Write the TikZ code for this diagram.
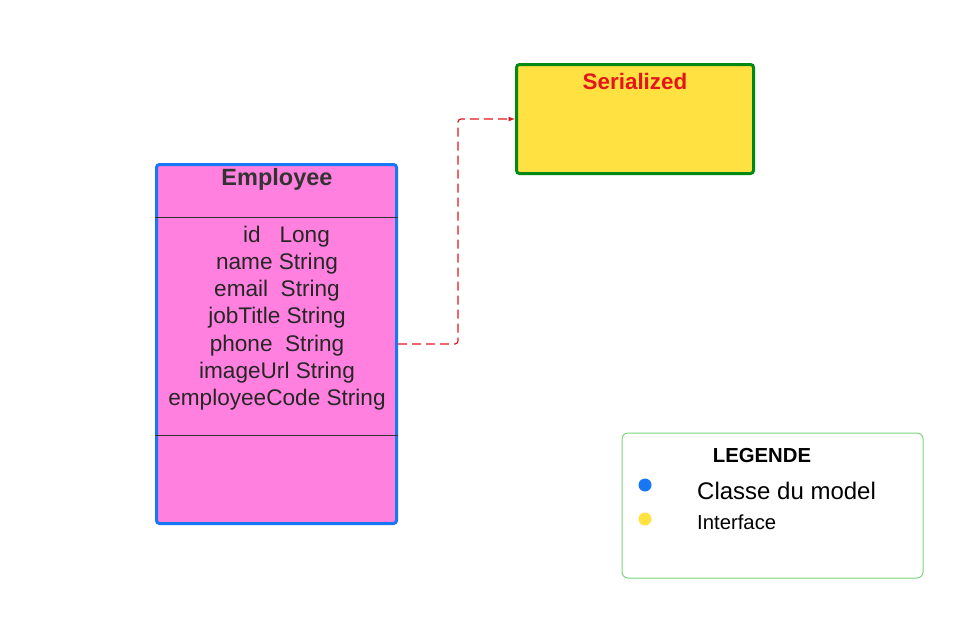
\documentclass[tikz,border=0pt]{standalone}
\usepackage{fontspec}
\setmainfont{Liberation Sans}
\usepackage{tikz}
\usetikzlibrary{arrows}

\definecolor{classBlue}{RGB}{24,119,242}
\definecolor{classPink}{RGB}{255,128,223}
\definecolor{ifaceYellow}{RGB}{255,225,66}
\definecolor{ifaceGreen}{RGB}{0,138,20}
\definecolor{ifaceRed}{RGB}{228,22,27}
\definecolor{legendGreen}{RGB}{125,212,125}

\begin{document}
\begin{tikzpicture}[x=1pt, y=-1pt]
    \useasboundingbox (0,0) rectangle (969,632);

    % Reference coordinates
    \coordinate (empC) at (276.5,344);
    \coordinate (serC) at (635,119);
    \coordinate (legC) at (772.5,505.5);

    % Classes
    \node[draw=classBlue, line width=3pt, fill=classPink, rounded corners=3pt, minimum width=240pt, minimum height=359pt, inner sep=0pt] (emp) at (empC) {};
    \node[text=black!80, font=\fontsize{23.5}{28}\selectfont\bfseries] (empTitle) at (277,179) {Employee};
    \node[text=black!85, align=center, font=\fontsize{22.6}{27.2}\selectfont] (empAttr) at (277,318) {\hspace*{19pt}id\ \ \ Long\\ name String\\ email\ \ String\\ jobTitle String\\ phone\ \ String\\ imageUrl String\\ employeeCode String};
    \draw[black!80, line width=1pt] (emp.west |- 0,217) -- (emp.east |- 0,217);
    \draw[black!80, line width=1pt] (emp.west |- 0,435) -- (emp.east |- 0,435);

    \node[draw=ifaceGreen, line width=3pt, fill=ifaceYellow, rounded corners=3pt, minimum width=237pt, minimum height=109pt, inner sep=0pt] (ser) at (serC) {};
    \node[text=ifaceRed, font=\fontsize{22.4}{26}\selectfont\bfseries] (serTitle) at (635,81) {Serialized};

    % Employee - Serialized
    \draw[-latex, ifaceRed, line width=1.2pt, dash pattern=on 9pt off 5pt, rounded corners=3pt] (emp.east) -- ++(60,0) |- (ser.west);

    % Legend
    \node[draw=legendGreen, line width=1pt, rounded corners=6pt, minimum width=301pt, minimum height=145pt, inner sep=0pt] (leg) at (legC) {};
    \node[font=\fontsize{20.3}{24}\selectfont\bfseries] (legTitle) at (762,456) {LEGENDE};
    \fill[classBlue] (645,485) circle (6.5pt);
    \fill[ifaceYellow] (645,519) circle (6.5pt);
    \node[anchor=west, inner sep=0pt, font=\fontsize{24}{28}\selectfont] (legClass) at (697,491) {Classe du model};
    \node[anchor=west, inner sep=0pt, font=\fontsize{20.3}{24}\selectfont] (legIface) at (697,522) {Interface};

\end{tikzpicture}
\end{document}
